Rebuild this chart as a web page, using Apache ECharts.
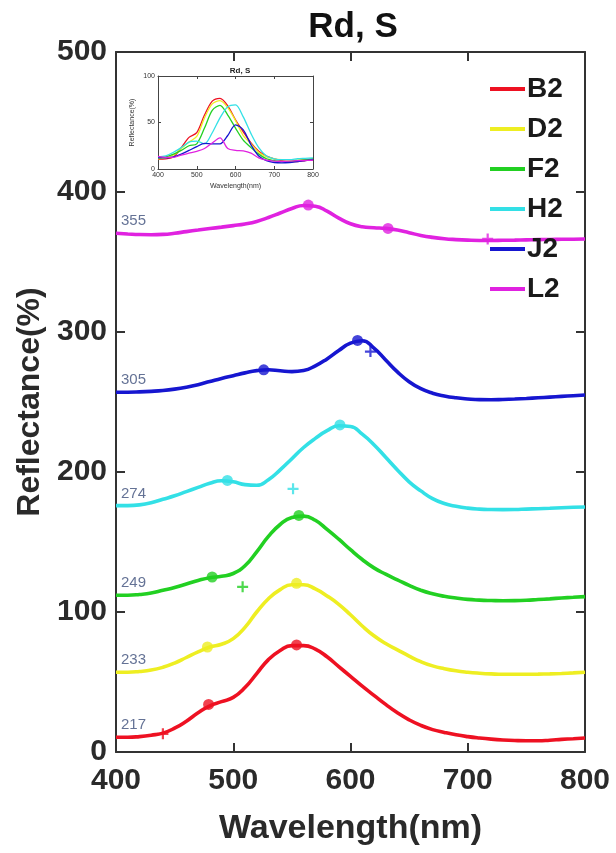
<!DOCTYPE html>
<html><head><meta charset="utf-8">
<script src="https://cdn.jsdelivr.net/npm/echarts@6/dist/echarts.min.js"></script>
<style>html,body{margin:0;padding:0;background:#fff}#c{width:616px;height:853px}</style>
</head><body><div id="c"></div>
<script>
// ---- main plot data (offset spectra) ----
const wavelengths = [400,410,420,430,440,450,460,470,480,490,500,510,520,530,540,550,560,570,580,590,600,610,620,630,640,650,660,670,680,690,700,710,720,730,740,750,760,770,780,790,800];
const B2 = [10.5,10.5,11,12,13.5,17,22,28,33,36,39,46,56,66,72.5,76,76,73.5,68,61,54,47,40.5,34,28,23,19,16,14,12.3,11,10,9.2,8.6,8.2,8,8,8.4,9,9.5,10];
const D2 = [57,57,57.5,58.5,60.5,63.5,67.5,71.5,75,77,81,89,100,109.5,116,119.5,119.5,116.5,111.5,105.5,98,90,83,77.5,73,68.5,64.5,61.5,59.5,58,57,56.3,55.8,55.5,55.5,55.5,55.6,55.8,56.1,56.5,57];
const F2 = [112,112,112.5,113.5,115.5,117.5,120,122.5,124.5,125.5,127.5,133,143,154,162.5,167.5,168.5,165.5,159,152,144.5,137.5,131.5,127,123,119,115.5,113,111.2,110,109,108.5,108.2,108,108.1,108.4,108.9,109.4,110,110.5,111];
const H2 = [176,176,176.5,178,180.5,183,186,189,192,193.8,193,191,190.5,194.5,201.5,209.5,217.5,224,229.5,233,232.5,227,219.5,210.5,201.5,193,186.5,181,177.5,175.5,174.2,173.5,173.2,173.1,173.2,173.5,173.8,174.1,174.5,174.8,175];
const J2 = [257,257,257.2,257.6,258.2,259.2,260.6,262.4,264.6,266.8,268.8,270.8,272.4,273,272.3,271.7,272.5,275.8,280.8,286.8,292,293.8,288.5,280,271.5,264.5,259.5,256.3,254.3,253,252.2,251.7,251.6,251.8,252.1,252.5,253,253.5,254,254.5,255];
const L2 = [370.5,370,369.6,369.5,369.7,370.5,371.7,372.8,373.9,374.9,376,377.2,379,381.8,385,388.2,390.4,389.8,386.3,381.3,377.3,375.2,374.5,374,372.8,370.9,369,367.6,366.6,366,365.6,365.4,365.4,365.5,365.6,365.8,366,366.1,366.2,366.3,366.4];

// feature markers: [wavelength, value]
const B2_dots = [[479,34],[554,76.5]];
const B2_plus = [[440,13]];
const D2_dots = [[478,75],[554,120.5]];
const D2_plus = [];
const F2_dots = [[482,125],[556,169]];
const F2_plus = [[508,118]];
const H2_dots = [[495,194],[591,233.6]];
const H2_plus = [[551,188]];
const J2_dots = [[526,273],[606,294]];
const J2_plus = [[617,286]];
const L2_dots = [[564,390.7],[632,374]];
const L2_plus = [[717,366.5]];

const sideLabels = ['217','233','249','274','305','355'];
const seriesNames = ['B2','D2','F2','H2','J2','L2'];

// ---- inset data (raw spectra) ----
const insetWavelengths = [400,420,440,460,480,500,520,540,560,580,600,620,640,660,680,700,720,740,760,780,800];
const iB2 = [10.5,11,13,23,34,39,58,73,76,68,53,40,28,19,14,11,9,8,8,9,10];
const iD2 = [11,12,15,22,29,35,55,70,73.5,66,52,36,27,18,13,11,10,9.5,9.5,10,11];
const iF2 = [12,13,16,20,25,27,44,63,68.5,58,44,31,23,16,11,9,8,8,9,10,11];
const iH2 = [13,14,18,23,29,30,27,39,55,67,69,56,38,23,14,11,10,10,11,11.5,12];
const iJ2 = [12,12,13,16,20,24,27.5,27,27,36,47.5,42,26,14,9,7,6.5,7,8,9,10];
const iL2 = [13.5,12.5,12.5,15,17,19,22,28,33.5,22,20,19.5,17,12,9.5,8.5,8.3,8.5,9,9.2,9.4];

const colors = ['#ee1122','#eeee22','#22d022','#33e0e6','#1616d0','#e022e0'];
const FONT = '"Liberation Sans", Arial, sans-serif';

const mainSets = [B2,D2,F2,H2,J2,L2];
const dotSets = [B2_dots,D2_dots,F2_dots,H2_dots,J2_dots,L2_dots];
const plusSets = [B2_plus,D2_plus,F2_plus,H2_plus,J2_plus,L2_plus];
const insetSets = [iB2,iD2,iF2,iH2,iJ2,iL2];

const PLUS = 'path://M4,0H6V4H10V6H6V10H4V6H0V4H4Z';

const series = [];
mainSets.forEach((vals, i) => {
  series.push({
    name: seriesNames[i], type: 'line', xAxisIndex: 0, yAxisIndex: 0,
    data: wavelengths.map((w, k) => [w, vals[k]]),
    smooth: 0.5, showSymbol: false, z: 3,
    lineStyle: {color: colors[i], width: 3.6}, itemStyle: {color: colors[i]}
  });
});
mainSets.forEach((vals, i) => {
  series.push({
    name: seriesNames[i] + '_d', type: 'scatter', xAxisIndex: 0, yAxisIndex: 0,
    data: dotSets[i], symbol: 'circle', symbolSize: 11, z: 4,
    itemStyle: {color: colors[i]}
  });
  series.push({
    name: seriesNames[i] + '_p', type: 'scatter', xAxisIndex: 0, yAxisIndex: 0,
    data: plusSets[i], symbol: PLUS, symbolSize: 11, z: 4,
    itemStyle: {color: colors[i]}
  });
  series.push({
    name: seriesNames[i] + '_l', type: 'scatter', xAxisIndex: 0, yAxisIndex: 0,
    data: [[wavelengths[0], vals[0]]], symbolSize: 0, z: 5, silent: true,
    label: {show: true, position: 'right', distance: 5, offset: [0, -12],
      formatter: sideLabels[i], fontSize: 15, color: '#3d4f7a', fontFamily: FONT}
  });
});
insetSets.forEach((vals, i) => {
  series.push({
    name: seriesNames[i] + '_i', type: 'line', xAxisIndex: 2, yAxisIndex: 2,
    data: insetWavelengths.map((w, k) => [w, vals[k]]),
    smooth: 0.3, showSymbol: false, z: 3,
    lineStyle: {color: colors[i], width: 1.3}
  });
});

const axisLine = {show: true, onZero: false, lineStyle: {color: '#333', width: 2}};
const tickIn = {show: true, inside: true, length: 9, lineStyle: {color: '#333', width: 2}};
const axisLineS = {show: true, onZero: false, lineStyle: {color: '#444', width: 1}};
const tickInS = {show: true, inside: true, length: 3, lineStyle: {color: '#444', width: 1}};
const lblBig = {fontSize: 30, fontWeight: 'bold', color: '#2a2a2a', fontFamily: FONT};
const nameBigX = {fontSize: 34, fontWeight: 'bold', color: '#2a2a2a', fontFamily: FONT};
const nameBigY = {fontSize: 32, fontWeight: 'bold', color: '#2a2a2a', fontFamily: FONT};
const lblSmall = {fontSize: 7, color: '#333', fontFamily: FONT};

const option = {
  backgroundColor: '#fff',
  animation: false,
  title: [
    {text: 'Rd, S', left: 348, top: 5, textAlign: 'center',
     textStyle: {fontSize: 35, fontWeight: 'bold', color: '#111', fontFamily: FONT}},
    {text: 'Rd, S', left: 235, top: 62, textAlign: 'center',
     textStyle: {fontSize: 8, fontWeight: 'bold', color: '#222', fontFamily: FONT}}
  ],
  legend: {
    data: seriesNames, orient: 'vertical', left: 485, top: 70,
    itemWidth: 35, itemHeight: 4, itemGap: 12, icon: 'rect',
    textStyle: {fontSize: 28, fontWeight: 'bold', color: '#1a1a1a', fontFamily: FONT, padding: [0,0,0,-3]}
  },
  grid: [
    {left: 116, right: 31, top: 52, bottom: 101},
    {left: 158, top: 76, width: 155, height: 93}
  ],
  xAxis: [
    {gridIndex: 0, type: 'value', min: 400, max: 800, interval: 100, position: 'bottom',
     axisLine, axisTick: tickIn, splitLine: {show: false},
     axisLabel: Object.assign({margin: 14}, lblBig),
     name: 'Wavelength(nm)', nameLocation: 'middle', nameGap: 60,
     nameTextStyle: nameBigX},
    {gridIndex: 0, type: 'value', min: 400, max: 800, interval: 100, position: 'top',
     axisLine, axisTick: tickIn, splitLine: {show: false}, axisLabel: {show: false}},
    {gridIndex: 1, type: 'value', min: 400, max: 800, interval: 100, position: 'bottom',
     axisLine: axisLineS, axisTick: tickInS, splitLine: {show: false},
     axisLabel: Object.assign({margin: 3}, lblSmall),
     name: 'Wavelength(nm)', nameLocation: 'middle', nameGap: 14, nameTextStyle: lblSmall},
    {gridIndex: 1, type: 'value', min: 400, max: 800, interval: 100, position: 'top',
     axisLine: axisLineS, axisTick: tickInS, splitLine: {show: false}, axisLabel: {show: false}}
  ],
  yAxis: [
    {gridIndex: 0, type: 'value', min: 0, max: 500, interval: 100, position: 'left',
     axisLine, axisTick: tickIn, splitLine: {show: false},
     axisLabel: Object.assign({margin: 9}, lblBig),
     name: 'Reflectance(%)', nameLocation: 'middle', nameGap: 70, nameRotate: 90,
     nameTextStyle: nameBigY},
    {gridIndex: 0, type: 'value', min: 0, max: 500, interval: 100, position: 'right',
     axisLine, axisTick: tickIn, splitLine: {show: false}, axisLabel: {show: false}},
    {gridIndex: 1, type: 'value', min: 0, max: 100, interval: 50, position: 'left',
     axisLine: axisLineS, axisTick: tickInS, splitLine: {show: false},
     axisLabel: Object.assign({margin: 3}, lblSmall),
     name: 'Reflectance(%)', nameLocation: 'middle', nameGap: 22, nameRotate: 90, nameTextStyle: lblSmall},
    {gridIndex: 1, type: 'value', min: 0, max: 100, interval: 50, position: 'right',
     axisLine: axisLineS, axisTick: tickInS, splitLine: {show: false}, axisLabel: {show: false}}
  ],
  series
};
const chart = echarts.init(document.getElementById('c'), null, {renderer: 'canvas'});
chart.setOption(option);
</script>
</body></html>
